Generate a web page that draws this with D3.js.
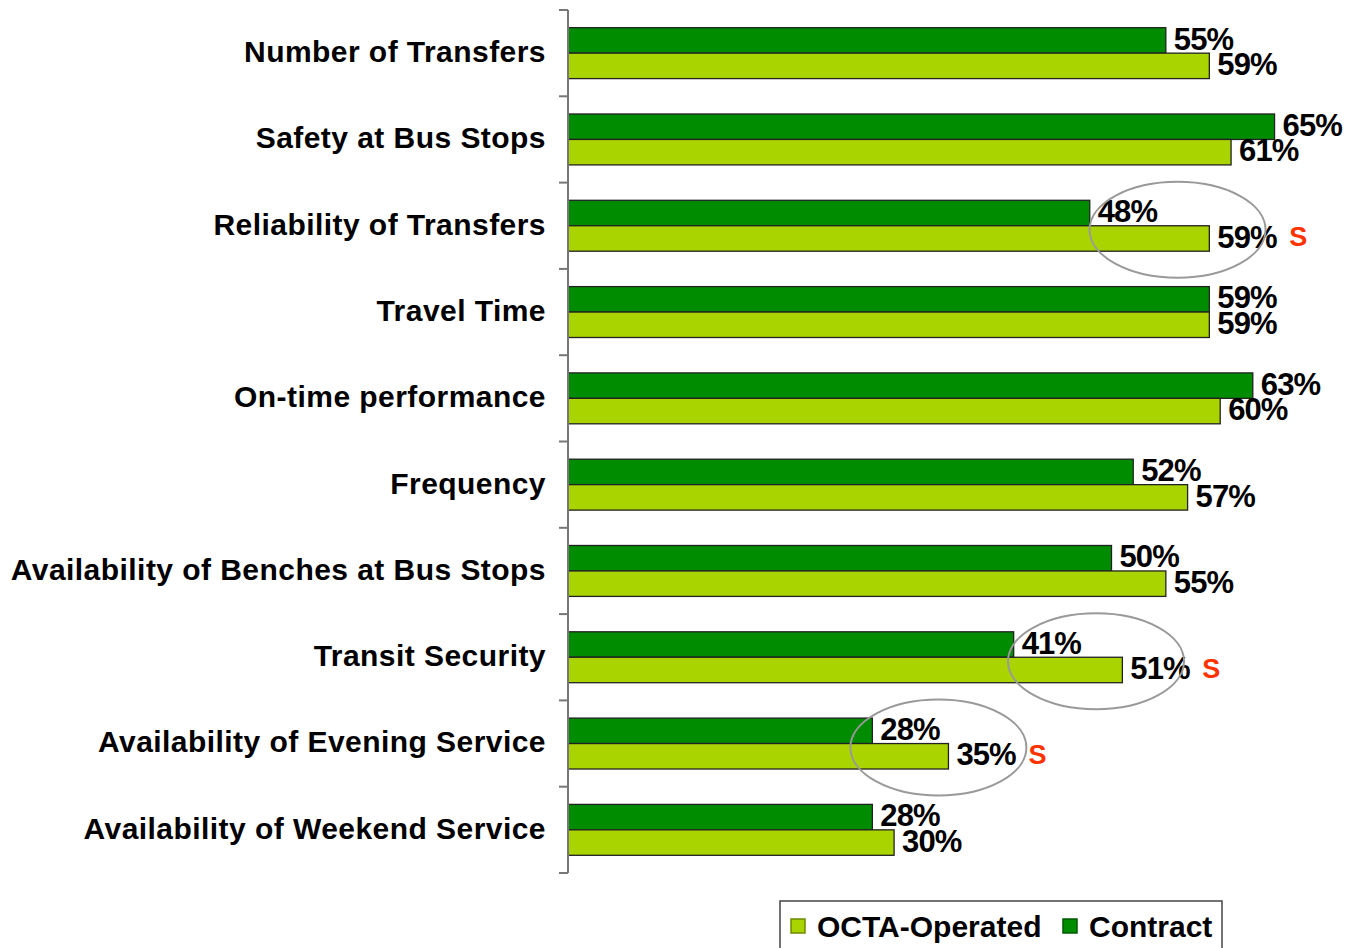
<!DOCTYPE html>
<html>
<head>
<meta charset="utf-8">
<script src="https://cdn.jsdelivr.net/npm/d3@7"></script>
<style>
  body { margin: 0; background: #fff; }
  svg { display: block; font-family: "Liberation Sans", Arial, sans-serif; font-weight: bold; }
</style>
</head>
<body>
<div id="chart"></div>
<script>
// categorias de arriba a abajo
const categories = [
    "Number of Transfers",
    "Safety at Bus Stops",
    "Reliability of Transfers",
    "Travel Time",
    "On-time performance",
    "Frequency",
    "Availability of Benches at Bus Stops",
    "Transit Security",
    "Availability of Evening Service",
    "Availability of Weekend Service"
];
const contract = [55, 65, 48, 59, 63, 52, 50, 41, 28, 28];
const octa = [59, 61, 59, 59, 60, 57, 55, 51, 35, 30];
// diferencias significativas (marcadas con S y elipse)
const significant = ["Reliability of Transfers", "Transit Security", "Availability of Evening Service"];
const seriesNames = ["Contract", "OCTA-Operated"];
const legendNames = ["OCTA-Operated", "Contract"];

const colors = { "Contract": "#008C00", "OCTA-Operated": "#AAD400" };

const width = 1345, height = 948;
const axisX = 568;

const svg = d3.select("#chart").append("svg")
    .attr("width", width)
    .attr("height", height);

const x = d3.scaleLinear().domain([0, 100]).range([axisX, axisX + 1087]);
const y = d3.scaleBand().domain(categories).range([10, 873])
    .paddingInner(0.41).paddingOuter(0.205);
const yInner = d3.scaleBand().domain(seriesNames).range([0, y.bandwidth()]);

const rows = categories.map((c, i) => ({ cat: c, values: [
    { name: "Contract", value: contract[i] },
    { name: "OCTA-Operated", value: octa[i] }
]}));

// barras
const groups = svg.selectAll(".row")
    .data(rows)
    .enter().append("g")
    .attr("class", "row")
    .attr("transform", d => `translate(0, ${y(d.cat)})`);

groups.selectAll("rect")
    .data(d => d.values)
    .enter().append("rect")
    .attr("x", x(0))
    .attr("y", d => yInner(d.name))
    .attr("width", d => x(d.value) - x(0))
    .attr("height", yInner.bandwidth())
    .attr("fill", d => colors[d.name])
    .attr("stroke", "#222")
    .attr("stroke-width", 1.3);

// eje vertical con marcas entre categorias
svg.append("line")
    .attr("x1", axisX).attr("x2", axisX)
    .attr("y1", y.range()[0]).attr("y2", y.range()[1])
    .attr("stroke", "#777").attr("stroke-width", 2);

svg.selectAll(".tick")
    .data(d3.range(categories.length + 1))
    .enter().append("line")
    .attr("class", "tick")
    .attr("x1", axisX - 9).attr("x2", axisX)
    .attr("y1", i => y.range()[0] + i * y.step())
    .attr("y2", i => y.range()[0] + i * y.step())
    .attr("stroke", "#777").attr("stroke-width", 2);

// etiquetas de categoria
svg.selectAll(".cat")
    .data(categories)
    .enter().append("text")
    .attr("class", "cat")
    .attr("x", 546)
    .attr("y", d => y(d) + y.bandwidth() / 2 - 1)
    .attr("dy", "0.33em")
    .attr("text-anchor", "end")
    .attr("font-size", 30)
    .attr("letter-spacing", 0.45)
    .attr("fill", "#000")
    .text(d => d);

// etiquetas de valores
groups.selectAll(".val")
    .data(d => d.values)
    .enter().append("text")
    .attr("class", "val")
    .attr("x", d => x(d.value) + 8)
    .attr("y", d => yInner(d.name) + yInner.bandwidth() / 2 - 2)
    .attr("dy", "0.36em")
    .attr("font-size", 31)
    .attr("letter-spacing", -0.9)
    .attr("fill", "#000")
    .text(d => d.value + "%");

// elipses y marcas S
const sigRows = rows.filter(r => significant.includes(r.cat));

svg.selectAll(".ring")
    .data(sigRows)
    .enter().append("ellipse")
    .attr("class", "ring")
    .attr("cx", d => (x(d.values[0].value) + x(d.values[1].value)) / 2 + 28)
    .attr("cy", d => y(d.cat) + yInner("OCTA-Operated") + 4)
    .attr("rx", 88)
    .attr("ry", 48)
    .attr("fill", "none")
    .attr("stroke", "#999")
    .attr("stroke-width", 2);

svg.selectAll(".sig")
    .data(sigRows)
    .enter().append("text")
    .attr("class", "sig")
    .attr("x", d => x(d.values[1].value) + 80)
    .attr("y", d => y(d.cat) + yInner("OCTA-Operated") + yInner.bandwidth() / 2 - 2)
    .attr("dy", "0.36em")
    .attr("font-size", 27)
    .attr("fill", "#FF3300")
    .text("S");

// leyenda
const legend = svg.append("g");
legend.append("rect")
    .attr("x", 780).attr("y", 901)
    .attr("width", 442).attr("height", 60)
    .attr("fill", "#fff")
    .attr("stroke", "#444").attr("stroke-width", 1.5);

const legendX = [791, 1063];
legendNames.forEach((name, i) => {
    legend.append("rect")
        .attr("x", legendX[i]).attr("y", 919)
        .attr("width", 14).attr("height", 14)
        .attr("fill", colors[name])
        .attr("stroke", name === "Contract" ? "#005a00" : "#6e8a00")
        .attr("stroke-width", 1.5);
    legend.append("text")
        .attr("x", legendX[i] + 26).attr("y", 937)
        .attr("font-size", 30)
        .attr("fill", "#000")
        .text(name);
});
</script>
</body>
</html>
